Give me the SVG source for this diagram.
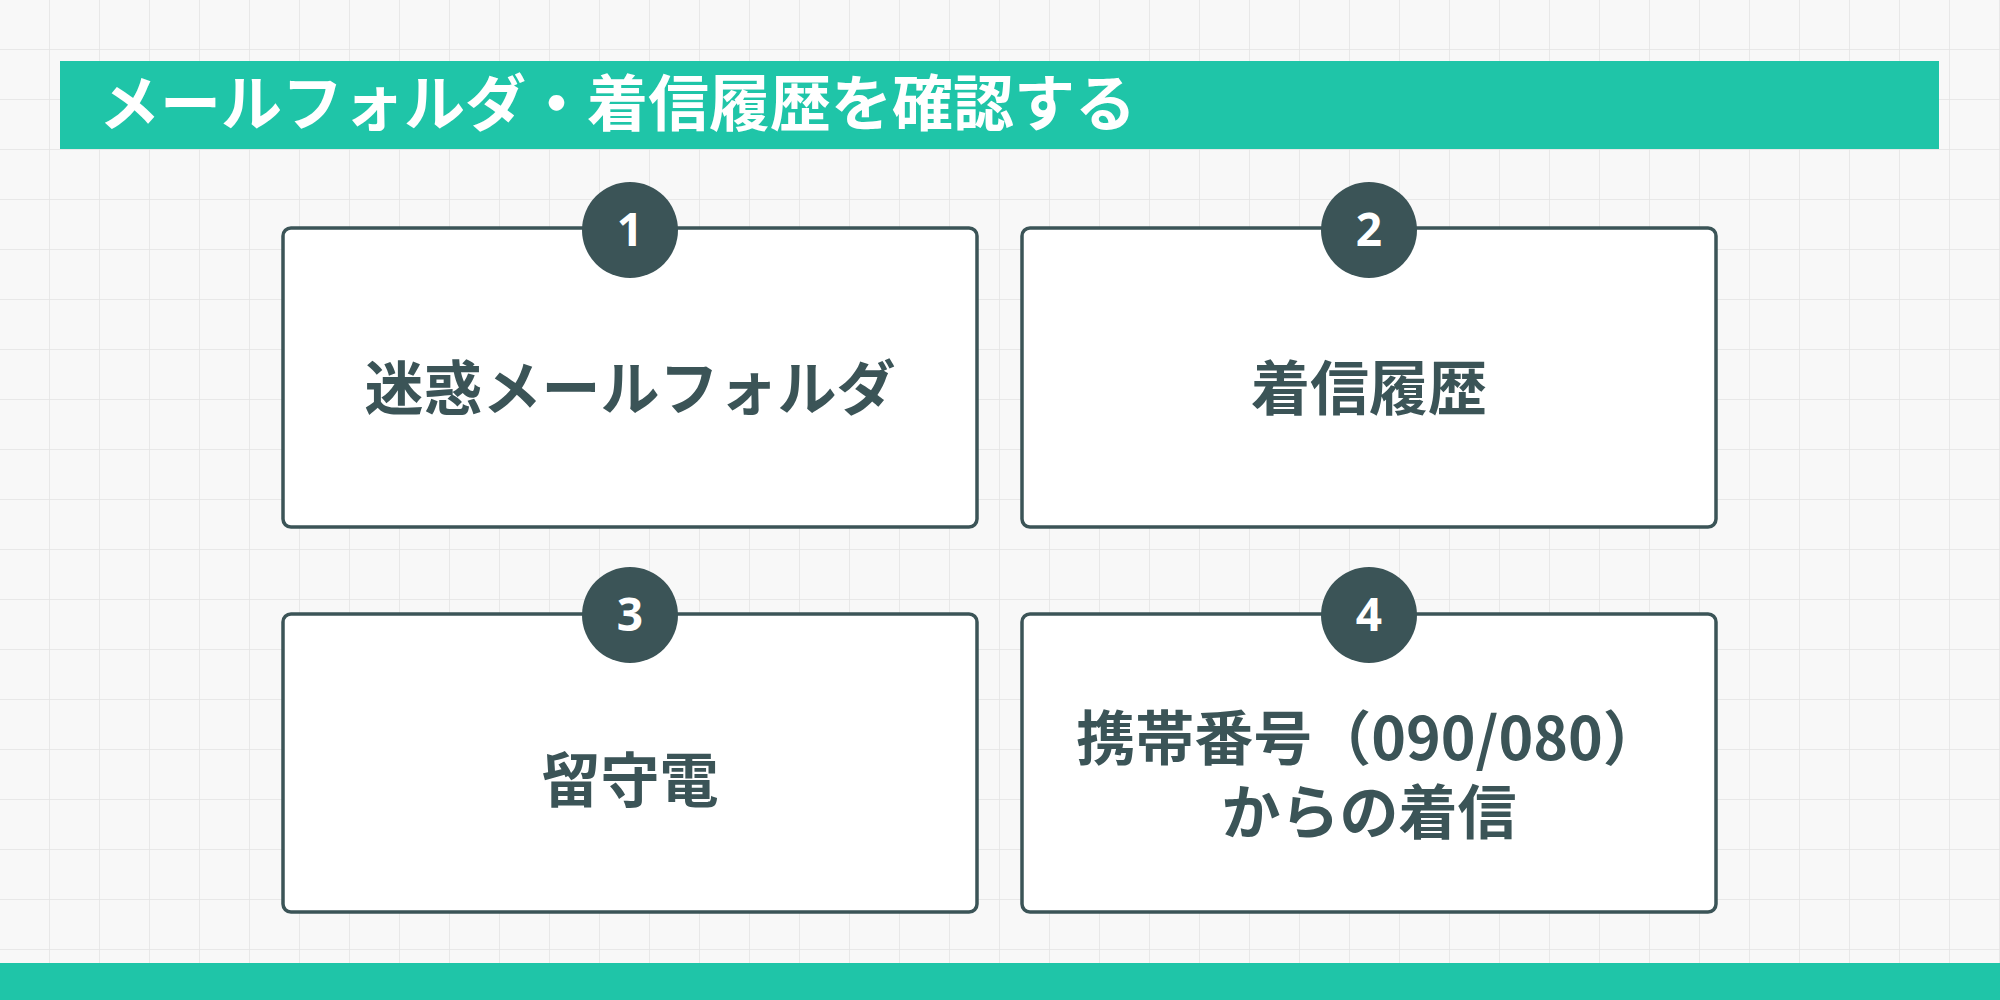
<svg xmlns="http://www.w3.org/2000/svg" width="2000" height="1000" viewBox="0 0 2000 1000">
<style>
.box{fill:#fff;stroke:#3b5457;stroke-width:3.5}
.num{fill:#3b5457}
.nt{font-family:"Noto Sans","Liberation Sans",sans-serif;font-weight:700;font-size:46px;fill:#fff;text-anchor:middle}
.bt{font-family:"Noto Sans CJK JP",sans-serif;font-weight:700;font-size:59px;fill:#3b5457;text-anchor:middle}
</style>
<defs>
<pattern id="g" width="50" height="50" patternUnits="userSpaceOnUse">
<path d="M50 0V50M0 50H50" fill="none" stroke="#e4e4e4" stroke-width="1.5"/>
</pattern>
</defs>
<rect width="2000" height="1000" fill="#f8f8f8"/>
<rect width="2000" height="1000" fill="url(#g)"/>
<g id="title">
<rect x="60" y="61" width="1879" height="88" fill="#1fc5a8"/>
<text x="99" y="126" font-family="Noto Sans CJK JP,sans-serif" font-weight="700" font-size="61" fill="#fff">メールフォルダ・着信履歴を確認する</text>
</g>
<rect id="footer" x="0" y="963" width="2000" height="37" fill="#1fc5a8"/>
<g id="n1"><rect class="box" x="283" y="228" width="694" height="299" rx="8"/><circle class="num" cx="630" cy="230" r="48"/><text class="nt" x="630" y="246">1</text><text class="bt" x="630" y="410">迷惑メールフォルダ</text></g>
<g id="n2"><rect class="box" x="1022" y="228" width="694" height="299" rx="8"/><circle class="num" cx="1369" cy="230" r="48"/><text class="nt" x="1369" y="246">2</text><text class="bt" x="1369" y="410">着信履歴</text></g>
<g id="n3"><rect class="box" x="283" y="614" width="694" height="298" rx="8"/><circle class="num" cx="630" cy="615" r="48"/><text class="nt" x="630" y="631">3</text><text class="bt" x="630" y="802">留守電</text></g>
<g id="n4"><rect class="box" x="1022" y="614" width="694" height="298" rx="8"/><circle class="num" cx="1369" cy="615" r="48"/><text class="nt" x="1369" y="631">4</text><text class="bt"><tspan x="1369" y="760">携帯番号（090/080）</tspan><tspan x="1369" y="834">からの着信</tspan></text></g>
<g id="connectors"/>
</svg>
